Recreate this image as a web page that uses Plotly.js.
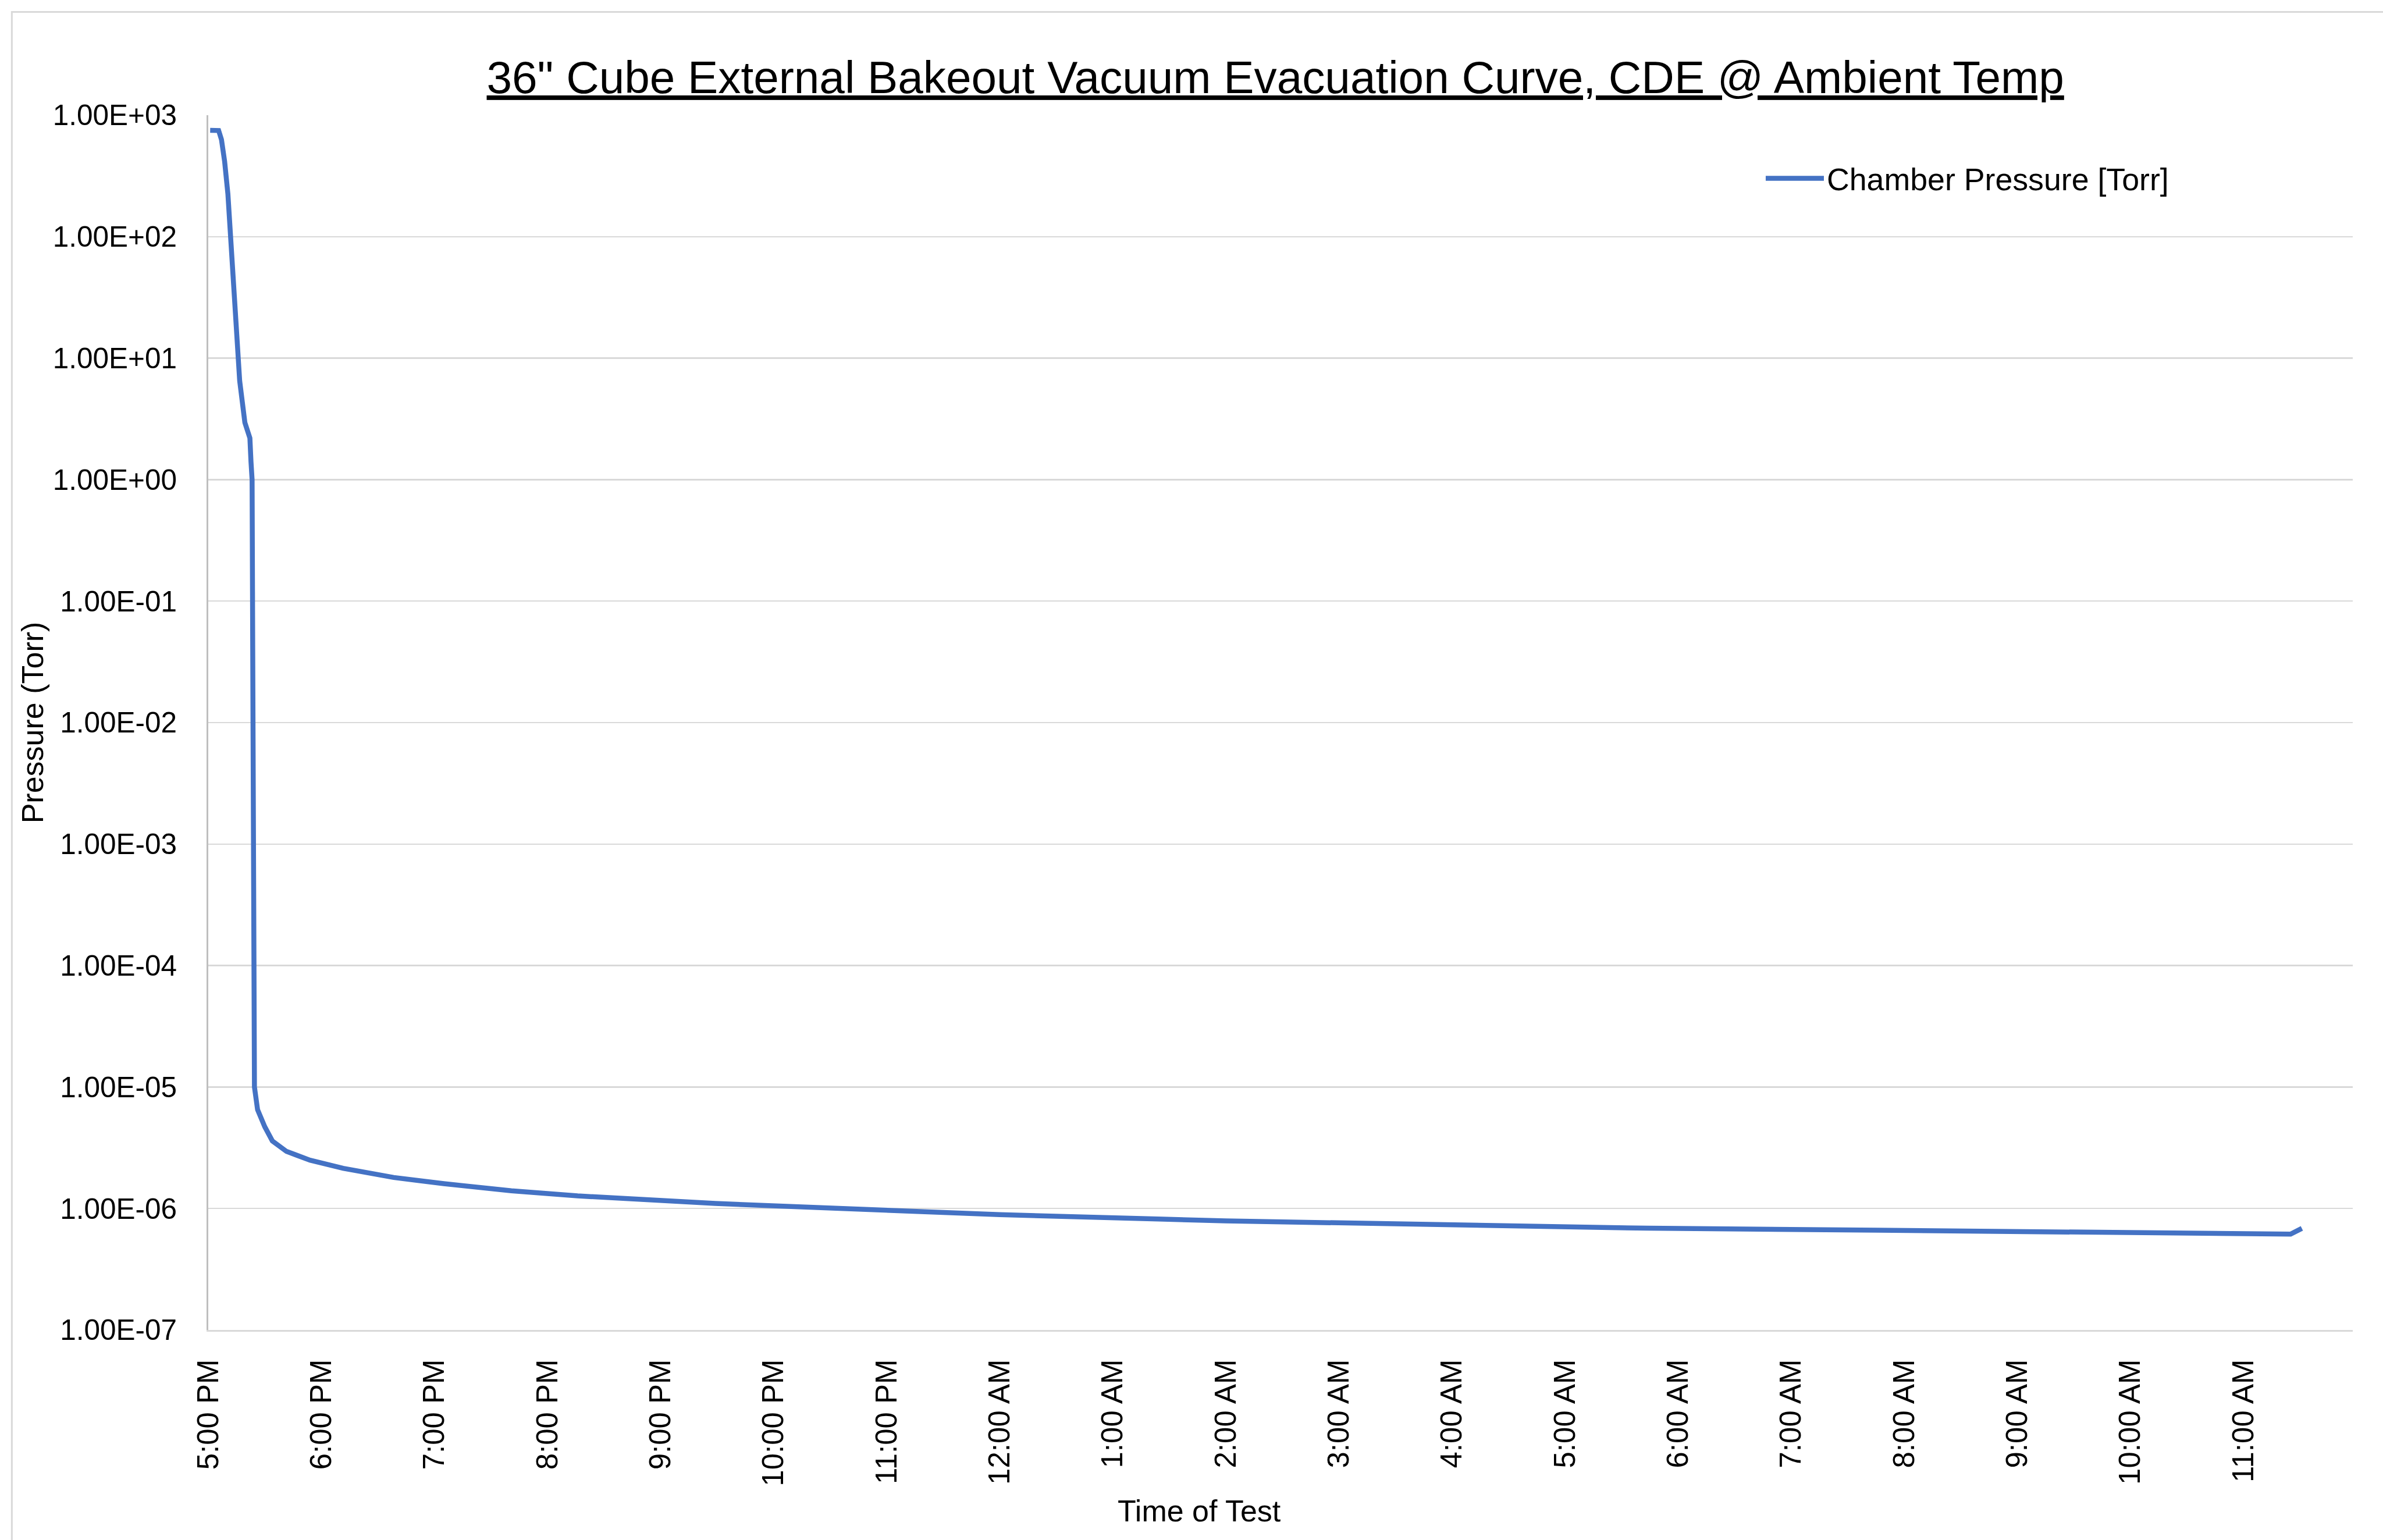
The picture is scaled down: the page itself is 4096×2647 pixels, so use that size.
<!DOCTYPE html>
<html>
<head>
<meta charset="utf-8">
<script src="https://cdn.plot.ly/plotly-3.0.1.min.js"></script>
<style>
  html, body { margin: 0; padding: 0; background: #ffffff; }
  #chart { width: 4096px; height: 2647px; }
</style>
</head>
<body>
<div id="chart"></div>
<script>
// ---- Data ----
const chartTitle = '36" Cube External Bakeout Vacuum Evacuation Curve, CDE @ Ambient Temp';
const seriesName = 'Chamber Pressure [Torr]';
const xAxisTitle = 'Time of Test';
const yAxisTitle = 'Pressure (Torr)';

const testTime = [
  '2021-01-01 17:01:00', '2021-01-01 17:05:30', '2021-01-01 17:07:00', '2021-01-01 17:08:40',
  '2021-01-01 17:10:25', '2021-01-01 17:11:55', '2021-01-01 17:13:35', '2021-01-01 17:15:20',
  '2021-01-01 17:16:40', '2021-01-01 17:19:25', '2021-01-01 17:22:05', '2021-01-01 17:22:40',
  '2021-01-01 17:23:15', '2021-01-01 17:23:35', '2021-01-01 17:24:00', '2021-01-01 17:24:10',
  '2021-01-01 17:24:30', '2021-01-01 17:26:10', '2021-01-01 17:30:00', '2021-01-01 17:34:00',
  '2021-01-01 17:41:30', '2021-01-01 17:54:00', '2021-01-01 18:11:35', '2021-01-01 18:38:25',
  '2021-01-01 19:05:00', '2021-01-01 19:40:50', '2021-01-01 20:16:00', '2021-01-01 21:29:00',
  '2021-01-01 22:00:00', '2021-01-01 23:23:00', '2021-01-02 00:00:00', '2021-01-02 01:24:00',
  '2021-01-02 02:00:00', '2021-01-02 03:26:00', '2021-01-02 04:30:00', '2021-01-02 05:44:00',
  '2021-01-02 07:46:00', '2021-01-02 09:47:00', '2021-01-02 10:46:00', '2021-01-02 11:20:00',
  '2021-01-02 11:25:00', '2021-01-02 11:31:00'
];
const chamberPressure = [
  750, 748, 630, 417,
  224, 100, 38, 13.8,
  6.5, 2.95, 2.2, 1.4,
  1.0, 0.04, 4e-4, 2.5e-5,
  1.0e-5, 6.5e-6, 4.7e-6, 3.6e-6,
  2.95e-6, 2.5e-6, 2.14e-6, 1.80e-6,
  1.60e-6, 1.40e-6, 1.27e-6, 1.10e-6,
  1.05e-6, 0.935e-6, 0.89e-6, 0.82e-6,
  0.79e-6, 0.75e-6, 0.72e-6, 0.688e-6,
  0.663e-6, 0.628e-6, 0.615e-6, 0.612e-6,
  0.615e-6, 0.686e-6
];

const yTickValues = [1e3, 1e2, 1e1, 1e0, 1e-1, 1e-2, 1e-3, 1e-4, 1e-5, 1e-6, 1e-7];
const yTickLabels = ['1.00E+03', '1.00E+02', '1.00E+01', '1.00E+00', '1.00E-01', '1.00E-02',
                     '1.00E-03', '1.00E-04', '1.00E-05', '1.00E-06', '1.00E-07'];
const xRange = ['2021-01-01 17:00:00', '2021-01-02 11:58:00'];

// ---- Chart ----
const FONT = '"Liberation Sans", Arial, sans-serif';

const trace = {
  type: 'scatter',
  mode: 'lines',
  name: seriesName,
  x: testTime,
  y: chamberPressure,
  line: { color: '#4472C4', width: 8.5 },
  showlegend: true
};

const layout = {
  width: 4096,
  height: 2647,
  paper_bgcolor: '#ffffff',
  plot_bgcolor: '#ffffff',
  margin: { l: 358, r: 52, t: 198, b: 361, pad: 0 },
  font: { family: FONT, color: '#000000' },
  title: {
    text: chartTitle,
    font: { family: FONT, size: 78.3, color: '#000000', lineposition: 'under' },
    xref: 'container', yref: 'container',
    x: 0.5352, xanchor: 'center',
    y: 0.9499, yanchor: 'middle'
  },
  showlegend: true,
  legend: {
    x: 0.7249, xanchor: 'left',
    y: 0.948, yanchor: 'middle',
    bgcolor: 'rgba(0,0,0,0)',
    borderwidth: 0,
    font: { family: FONT, size: 53.7, color: '#000000' },
    itemwidth: 100
  },
  xaxis: {
    type: 'date',
    range: xRange,
    tick0: '2021-01-01 17:00:00',
    dtick: 3600000,
    tickformat: '%-I:%M %p',
    tickangle: -90,
    ticks: '',
    ticklabelstandoff: 27,
    tickfont: { family: FONT, size: 51, color: '#000000' },
    showgrid: false,
    showline: true,
    linecolor: '#d9d9d9',
    linewidth: 3,
    zeroline: false,
    automargin: false
  },
  yaxis: {
    type: 'log',
    range: [-7, 3],
    tickvals: yTickValues,
    ticktext: yTickLabels,
    ticks: '',
    ticklabelstandoff: 41,
    tickfont: { family: FONT, size: 49.5, color: '#000000' },
    showgrid: true,
    gridcolor: '#d9d9d9',
    gridwidth: 2.5,
    showline: true,
    linecolor: '#bfbfbf',
    linewidth: 3,
    zeroline: false,
    automargin: false,
    title: {
      text: yAxisTitle,
      font: { family: FONT, size: 52, color: '#000000' },
      standoff: 0
    }
  },
  annotations: [
    {
      text: xAxisTitle,
      xref: 'paper', yref: 'paper',
      x: (2061 - 358) / 3686, xanchor: 'center',
      y: (2285.5 - 2596) / 2087.5, yanchor: 'middle',
      showarrow: false,
      font: { family: FONT, size: 52, color: '#000000' }
    }
  ],
  shapes: [
    {
      type: 'rect', layer: 'below',
      xref: 'paper', yref: 'paper',
      x0: -0.0916, x1: 1.05, y0: -0.2, y1: 1.085,
      line: { color: '#d9d9d9', width: 3 },
      fillcolor: 'rgba(0,0,0,0)'
    }
  ]
};

Plotly.newPlot('chart', [trace], layout, { displayModeBar: false, staticPlot: true });
</script>
</body>
</html>
